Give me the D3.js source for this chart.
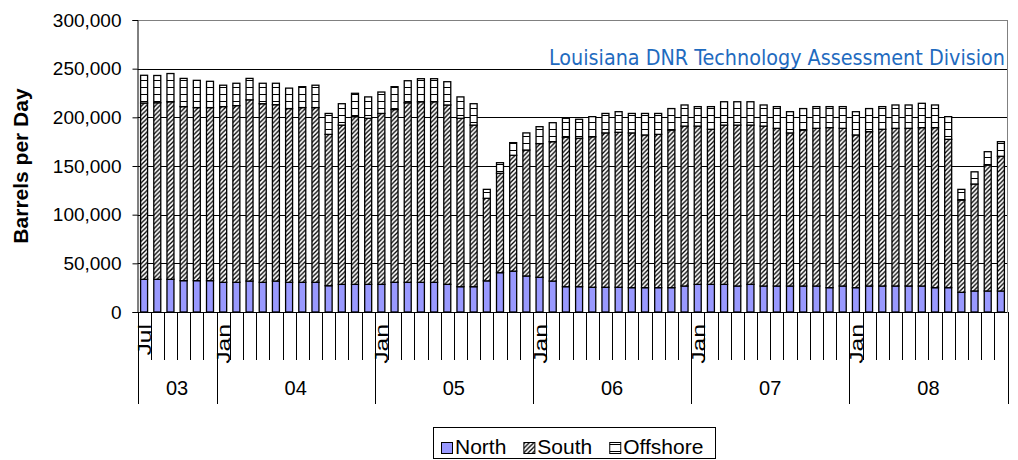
<!DOCTYPE html>
<html><head><meta charset="utf-8">
<script src="https://cdn.jsdelivr.net/npm/d3@7"></script>
<style>
body{margin:0;background:#fff;}
svg{display:block;font-family:"Liberation Sans",Arial,sans-serif;}
</style>
</head><body>
<svg id="c" width="1018" height="460"></svg>
<script>
const months = [
 "2003-07","2003-08","2003-09","2003-10","2003-11","2003-12",
 "2004-01","2004-02","2004-03","2004-04","2004-05","2004-06","2004-07","2004-08","2004-09","2004-10","2004-11","2004-12",
 "2005-01","2005-02","2005-03","2005-04","2005-05","2005-06","2005-07","2005-08","2005-09","2005-10","2005-11","2005-12",
 "2006-01","2006-02","2006-03","2006-04","2006-05","2006-06","2006-07","2006-08","2006-09","2006-10","2006-11","2006-12",
 "2007-01","2007-02","2007-03","2007-04","2007-05","2007-06","2007-07","2007-08","2007-09","2007-10","2007-11","2007-12",
 "2008-01","2008-02","2008-03","2008-04","2008-05","2008-06","2008-07","2008-08","2008-09","2008-10","2008-11","2008-12"];
const north = [33600,33600,33600,32200,32200,32200,
 30500,30500,31800,30500,31800,30500,30500,30500,27000,28400,28400,28400,
 28400,30500,30500,30500,30500,28400,26000,26000,32000,40400,42000,37000,
 35600,31800,26000,26000,25400,25400,25400,25000,25000,25000,25000,26700,
 28400,28400,28400,26700,28400,26700,26700,26700,26700,26700,25000,26700,
 25000,26700,26700,26700,26700,26700,25000,25000,20200,21600,21600,21600];
const south = [181100,181400,182400,178800,177800,177800,
 180500,181500,186200,183500,181200,178500,179500,179500,155500,163600,172300,170600,
 175600,177500,184500,185500,185500,184300,173000,166000,84800,102100,119000,129400,
 137400,143200,153500,152500,154600,158600,159200,159000,156900,157500,162000,164300,
 162600,159300,163600,165300,163600,164300,162000,157300,160300,162000,164400,162000,
 156900,158600,161000,162000,162000,162700,164400,152400,94800,109900,129400,138400];
const offshore = [28500,28000,29000,29000,28000,27000,
 22000,23000,22000,21000,22000,21000,21500,23000,21500,22000,24000,22000,
 22000,23500,22600,23700,23700,23900,22000,22000,9200,10900,13000,17600,
 17400,19500,19500,19500,20700,20000,21200,20000,22100,21500,22000,21700,
 20000,23300,24000,24000,24000,21700,22300,21800,22000,22300,21600,22300,
 23900,23700,23300,24000,24000,25000,23300,23300,11000,12500,13700,15000];
const seriesNames = ["North","South","Offshore"];
const yTicks = [0,50000,100000,150000,200000,250000,300000];
const monthTickLabels = {"2003-07":"Jul","2004-01":"Jan","2005-01":"Jan","2006-01":"Jan","2007-01":"Jan","2008-01":"Jan"};
const yearLabels = ["03","04","05","06","07","08"];
const yearPrefixes = ["2003","2004","2005","2006","2007","2008"];
const yTitle = "Barrels per Day";
const watermark = "Louisiana DNR Technology Assessment Division";

const svg = d3.select("#c");
const L = 137.5, R = 1007.5, T = 20, B = 312;

const defs = svg.append("defs");
const ps = defs.append("pattern").attr("id","pSouth").attr("patternUnits","userSpaceOnUse")
  .attr("width",4.5).attr("height",4.5);
ps.append("rect").attr("width",4.5).attr("height",4.5).attr("fill","#fff");
ps.append("path").attr("d","M-1,1 L1,-1 M0,4.5 L4.5,0 M3.5,5.5 L5.5,3.5").attr("stroke","#000").attr("stroke-width",1.35);
const po = defs.append("pattern").attr("id","pOff").attr("patternUnits","userSpaceOnUse")
  .attr("width",6).attr("height",7);
po.append("rect").attr("width",6).attr("height",7).attr("fill","#fff");
po.append("path").attr("d","M0,3.5 L6,3.5").attr("stroke","#000").attr("stroke-width",1);
const fills = {North:"#9999FF", South:"url(#pSouth)", Offshore:"url(#pOff)"};

const table = months.map((m,i)=>({month:m, North:north[i], South:south[i], Offshore:offshore[i]}));
const stacked = d3.stack().keys(seriesNames)(table);

const x = d3.scaleBand().domain(months).range([L,R]).paddingInner(0.47).paddingOuter(0.235);
const y = d3.scaleLinear().domain([0,300000]).range([B,T]);
const step = x.step();
const edge = m => x(m) + x.bandwidth()/2 - step/2;

// gridlines
svg.append("g").selectAll("line").data(yTicks.filter(v=>v>0)).join("line")
  .attr("x1",L).attr("x2",R).attr("y1",d=>Math.round(y(d))+0.5).attr("y2",d=>Math.round(y(d))+0.5)
  .attr("stroke",d=>d===300000?"#808080":"#000").attr("stroke-width",1);
svg.append("line").attr("x1",R).attr("x2",R).attr("y1",T).attr("y2",B).attr("stroke","#808080");

// watermark
svg.append("text").attr("x",549).attr("y",65)
  .attr("font-family","'DejaVu Sans Condensed','DejaVu Sans',Verdana,sans-serif")
  .attr("font-size",21).attr("textLength",456).attr("lengthAdjust","spacingAndGlyphs")
  .attr("fill","#1F6BBF").text(watermark);

// bars
const gBars = svg.append("g");
stacked.forEach(s=>{
  gBars.append("g").selectAll("rect").data(s).join("rect")
    .attr("x",d=>x(d.data.month)).attr("width",x.bandwidth())
    .attr("y",d=>y(d[1])).attr("height",d=>y(d[0])-y(d[1]))
    .attr("fill",fills[s.key]).attr("stroke","#000").attr("stroke-width",1.3);
});

// y axis
const yAxis = d3.axisLeft(y).tickValues(yTicks).tickSize(5).tickFormat(d3.format(","));
const gy = svg.append("g").attr("transform",`translate(${L},0)`).call(yAxis);
gy.select(".domain").attr("stroke","#000");
gy.selectAll(".tick line").attr("stroke","#000");
gy.selectAll(".tick text").attr("font-size",19).attr("fill","#000").attr("x",-16)
  .attr("font-family","'Liberation Sans',Arial,sans-serif");

svg.append("text").attr("transform",`translate(28,${(T+B)/2}) rotate(-90)`)
  .attr("text-anchor","middle").attr("font-weight","bold").attr("font-size",21).text(yTitle);

// x axis
svg.append("line").attr("x1",L).attr("x2",R).attr("y1",B+0.5).attr("y2",B+0.5).attr("stroke","#000");
const gx = svg.append("g");
const bounds = months.map(edge).concat([R]);
gx.selectAll("line.m").data(bounds).join("line").attr("class","m")
  .attr("x1",d=>Math.round(d)+0.5).attr("x2",d=>Math.round(d)+0.5)
  .attr("y1",B).attr("y2",(d,i)=>(i===months.length || i===0 || months[i].endsWith("-01"))?404:360)
  .attr("stroke","#000");
gx.selectAll("text.ml").data(months.filter(m=>monthTickLabels[m])).join("text").attr("class","ml")
  .attr("transform",m=>`translate(${x(m)+x.bandwidth()/2+7},324) scale(1,1.3) rotate(-90)`)
  .attr("text-anchor","end").attr("font-size",19).text(m=>monthTickLabels[m]);
gx.selectAll("text.yl").data(yearLabels).join("text").attr("class","yl")
  .attr("x",(d,i)=>{
    const ms = months.filter(m=>m.startsWith(yearPrefixes[i]));
    const a = edge(ms[0]), b = edge(ms[ms.length-1]) + step;
    return (a+b)/2;
  })
  .attr("y",395).attr("text-anchor","middle").attr("font-size",20).text(d=>d);

// legend
const lg = svg.append("g");
lg.append("rect").attr("x",433.5).attr("y",427.5).attr("width",282).attr("height",31)
  .attr("fill","#fff").attr("stroke","#000");
let cx = 441;
seriesNames.forEach(n=>{
  lg.append("rect").attr("x",cx+0.5).attr("y",442.5).attr("width",11).attr("height",11)
    .attr("fill",fills[n]).attr("stroke","#000");
  const t = lg.append("text").attr("x",cx+14).attr("y",453.5).attr("font-size",21).text(n);
  cx += 14 + t.node().getComputedTextLength() + 17;
});
</script>
</body></html>
